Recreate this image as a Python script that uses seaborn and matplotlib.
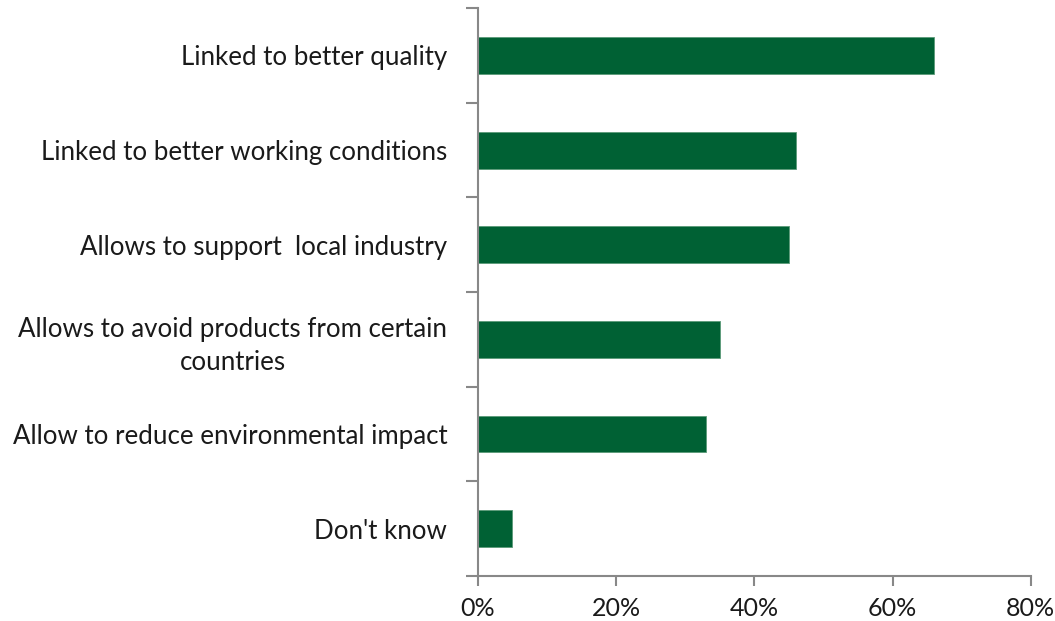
import matplotlib
matplotlib.use("Agg")
import matplotlib.pyplot as plt
import seaborn as sns
import pandas as pd
from matplotlib.ticker import FuncFormatter, FixedLocator

categories = [
    "Linked to better quality",
    "Linked to better working conditions",
    "Allows to support  local industry",
    "Allows to avoid products from certain\ncountries",
    "Allow to reduce environmental impact",
    "Don't know",
]
values = [66, 46, 45, 35, 33, 5]
x_ticks = [0, 20, 40, 60, 80]

sns.set_theme(style="white")
plt.rcParams["font.family"] = ["Lato", "DejaVu Sans"]

df = pd.DataFrame({"reason": categories, "share": values})

fig = plt.figure(figsize=(10.55, 6.21), dpi=100)
ax = fig.add_axes([0.453, 0.0725, 0.524, 0.9145])

sns.barplot(data=df, y="reason", x="share", orient="h", color="#006134",
            saturation=1, width=0.39, edgecolor="#5a9a78", linewidth=0.6, ax=ax)

ax.set_xlim(0, 80)
ax.set_ylim(len(categories) - 0.5, -0.5)
ax.xaxis.set_major_locator(FixedLocator(x_ticks))
ax.xaxis.set_major_formatter(FuncFormatter(lambda v, _: f"{v:.0f}%"))
ax.set_xlabel("")
ax.set_ylabel("")

# category labels sit between boundary ticks
ax.set_yticks(range(len(categories)))
ax.set_yticklabels(categories, ha="right", multialignment="center", linespacing=1.4)
ax.set_yticks([i - 0.5 for i in range(len(categories) + 1)], minor=True)
ax.tick_params(axis="y", which="major", length=0, pad=22, labelsize=18.6, labelcolor="#1a1a1a")
ax.tick_params(axis="y", which="minor", length=9, width=1.5, color="#888888", direction="out", left=True)
ax.tick_params(axis="x", which="major", length=7, width=1.5, color="#888888", direction="out",
               bottom=True, labelsize=18, labelcolor="#1a1a1a", pad=8)

for side in ["top", "right"]:
    ax.spines[side].set_visible(False)
for side in ["left", "bottom"]:
    ax.spines[side].set_color("#888888")
    ax.spines[side].set_linewidth(1.5)

fig.savefig("out.png", dpi=100, facecolor="white")
